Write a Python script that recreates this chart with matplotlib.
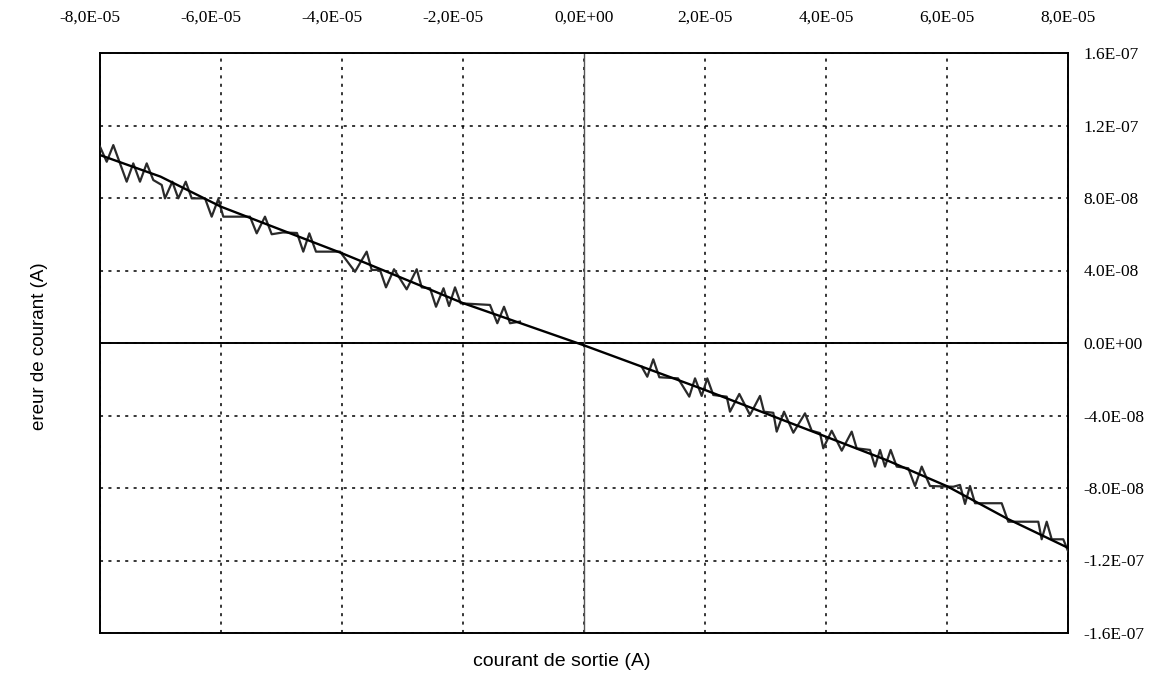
import numpy as np
import matplotlib.pyplot as plt
from matplotlib.ticker import FixedLocator, FuncFormatter
from matplotlib.transforms import ScaledTranslation

# x in units of 1e-5 A, y in units of 1e-8 A
XU = 1e-5
YU = 1e-8

# straight reference line
line_x = [-8.0, -7.0, -6.0, -4.0, -2.0, 0.0, 2.0, 4.0, 5.0, 6.0, 7.0, 8.0]
line_y = [10.37, 9.18, 7.52, 4.95, 2.20, -0.13, -2.59, -5.17, -6.46, -7.90, -9.70, -11.30]

# measured error, negative currents (staircase with ringing)
neg_x = [-8.000, -7.889, -7.780, -7.559, -7.450, -7.339, -7.228, -7.119, -6.980,
         -6.926, -6.805, -6.706, -6.583, -6.484, -6.264, -6.154, -6.045, -5.962,
         -5.521, -5.410, -5.273, -5.162, -4.975, -4.744, -4.640, -4.540, -4.430,
         -4.033, -3.785, -3.592, -3.509, -3.372, -3.273, -3.140, -2.931, -2.765,
         -2.683, -2.545, -2.446, -2.322, -2.231, -2.132, -2.038, -1.554, -1.433,
         -1.322, -1.223, -1.058]
neg_y = [10.83, 10.00, 10.92, 8.90, 9.91, 8.90, 9.91, 8.99, 8.72,
         7.98, 8.90, 7.98, 8.90, 7.98, 7.98, 6.97, 7.94, 6.97,
         6.97, 6.05, 6.97, 6.00, 6.10, 6.07, 5.04, 6.05, 5.04,
         5.04, 3.93, 5.04, 4.03, 4.03, 3.07, 4.07, 2.96, 4.07,
         3.07, 3.02, 2.00, 3.02, 2.04, 3.07, 2.19, 2.10, 1.09,
         2.00, 1.09, 1.18]

# measured error, positive currents
pos_x = [0.954, 1.046, 1.145, 1.245, 1.554, 1.740, 1.835, 1.945, 2.038, 2.137,
         2.359, 2.413, 2.567, 2.744, 2.909, 2.975, 3.129, 3.185, 3.306, 3.460,
         3.653, 3.764, 3.901, 3.955, 4.094, 4.260, 4.425, 4.507, 4.727, 4.810,
         4.893, 4.975, 5.069, 5.169, 5.360, 5.471, 5.582, 5.719, 6.104, 6.215,
         6.298, 6.380, 6.463, 6.904, 7.013, 7.509, 7.565, 7.648, 7.731, 7.922,
         8.000]
pos_y = [-1.31, -1.86, -0.90, -1.89, -1.95, -2.96, -1.95, -2.92, -1.95, -2.87,
         -2.96, -3.79, -2.81, -3.97, -2.92, -3.79, -3.85, -4.89, -3.79, -4.95,
         -3.88, -4.84, -4.97, -5.81, -4.84, -5.94, -4.89, -5.81, -5.90, -6.82,
         -5.90, -6.82, -5.90, -6.82, -6.91, -7.89, -6.82, -7.89, -7.93, -7.83,
         -8.88, -7.89, -8.84, -8.84, -9.86, -9.86, -10.83, -9.86, -10.83, -10.83,
         -11.48]

x_ticks = [-8e-5, -6e-5, -4e-5, -2e-5, 0.0, 2e-5, 4e-5, 6e-5, 8e-5]
y_ticks = [-1.6e-7, -1.2e-7, -8e-8, -4e-8, 0.0, 4e-8, 8e-8, 1.2e-7, 1.6e-7]

fig = plt.figure(figsize=(11.76, 6.77), dpi=100)
ax = fig.add_axes([100 / 1176, 44 / 677, 968 / 1176, 580 / 677])

ax.plot(np.array(line_x) * XU, np.array(line_y) * YU, color='black', lw=1.7, zorder=4)
ax.plot(np.array(neg_x) * XU, np.array(neg_y) * YU, color='#2a2a2a', lw=1.6,
        solid_joinstyle='round', zorder=3)
ax.plot(np.array(pos_x) * XU, np.array(pos_y) * YU, color='#2a2a2a', lw=1.6,
        solid_joinstyle='round', zorder=3)

ax.set_xlim(x_ticks[0], x_ticks[-1])
ax.set_ylim(y_ticks[0], y_ticks[-1])
ax.xaxis.set_major_locator(FixedLocator(x_ticks))
ax.yaxis.set_major_locator(FixedLocator(y_ticks))
ax.xaxis.set_major_formatter(FuncFormatter(lambda v, p: f"{v:.1E}".replace('.', ',')))
ax.yaxis.set_major_formatter(FuncFormatter(lambda v, p: f"{v:.1E}"))

ax.xaxis.tick_top()
ax.yaxis.tick_right()
ax.tick_params(axis='x', length=0, pad=20, labelsize=12.5)
ax.tick_params(axis='y', length=0, pad=11, labelsize=12.5)
for lbl in ax.get_xticklabels() + ax.get_yticklabels():
    lbl.set_family('Liberation Serif')

ax.grid(True, color='black', lw=1.1, ls=(0, (2, 3.5)))
ax.axhline(0, color='black', lw=1.4, zorder=2)
ax.axvline(0, color='#555555', lw=1.0, zorder=2)
for s in ax.spines.values():
    s.set_linewidth(1.4)
    s.set_color('black')

fig.text(562 / 1176, 1 - 662 / 677, 'courant de sortie (A)', ha='center', va='center',
         fontsize=14, family='Liberation Sans')
fig.text(40 / 1176, 1 - 346 / 677, 'ereur de courant (A)', ha='center', va='center',
         rotation=90, fontsize=13.5, family='Liberation Sans')

# negative labels sit a bit left of their gridline in the original
fig.canvas.draw()
shift = ScaledTranslation(-7 / 72, 0, fig.dpi_scale_trans)
for tick in ax.xaxis.get_major_ticks():
    if tick.label2.get_text().startswith('-'):
        tick.label2.set_transform(tick.label2.get_transform() + shift)

fig.savefig('out.png', dpi=100)
